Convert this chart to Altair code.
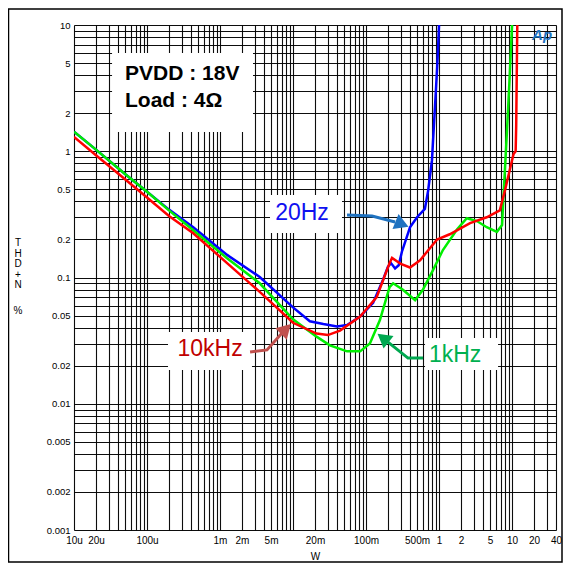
import altair as alt
import pandas as pd

# ---- measured curves (W, THD+N %) ----
w_20hz = [1e-5, 2e-5, 5e-5, 1e-4, 2e-4, 4.3e-4, 1.25e-3, 3.5e-3, 1e-2, 1.7e-2, 2.6e-2, 4e-2, 5.5e-2,
          8.3e-2, 0.125, 0.17, 0.2, 0.22, 0.25, 0.28, 0.31, 0.4, 0.5, 0.64, 0.71, 0.8, 0.87, 0.95, 1.0]
thd_20hz = [1.43, 1.03, 0.66, 0.478, 0.345, 0.25, 0.151, 0.101, 0.058, 0.045, 0.0428, 0.041, 0.042,
            0.049, 0.063, 0.095, 0.122, 0.13, 0.118, 0.125, 0.16, 0.25, 0.30, 0.35, 0.49, 0.85, 2.0, 5.0, 10.0]

w_1khz = [1e-5, 2e-5, 5e-5, 1e-4, 2e-4, 4.3e-4, 1.25e-3, 3.5e-3, 1e-2, 2.1e-2, 3.2e-2, 5.5e-2, 8.3e-2,
          0.113, 0.155, 0.21, 0.235, 0.32, 0.47, 0.6, 0.83, 1.13, 1.76, 2.4, 3.3, 4.5, 6.2, 7.3, 7.6,
          8.5, 9.3, 10.0]
thd_1khz = [1.43, 1.03, 0.66, 0.478, 0.34, 0.237, 0.142, 0.09, 0.0467, 0.034, 0.029, 0.026, 0.026,
            0.030, 0.046, 0.084, 0.09, 0.08, 0.066, 0.08, 0.115, 0.165, 0.24, 0.295, 0.28, 0.25, 0.23,
            0.26, 0.42, 1.4, 4.0, 10.0]

w_10khz = [1e-5, 2e-5, 5e-5, 1e-4, 2e-4, 4.3e-4, 1.25e-3, 3.5e-3, 1e-2, 2.1e-2, 3e-2, 4.4e-2, 8.3e-2,
           0.14, 0.21, 0.227, 0.3, 0.4, 0.55, 0.94, 1.4, 2.66, 4.5, 6.8, 8.0, 10.0, 10.5, 11.2, 11.4, 11.8]
thd_10khz = [1.30, 0.93, 0.60, 0.43, 0.307, 0.224, 0.13, 0.077, 0.0438, 0.036, 0.035, 0.038, 0.049,
             0.07, 0.13, 0.143, 0.128, 0.12, 0.137, 0.2, 0.22, 0.27, 0.30, 0.34, 0.49, 0.85, 0.95, 1.0,
             1.6, 10.0]

series_names = ["20Hz", "1kHz", "10kHz"]
series_colors = ["#0000ff", "#00ee00", "#ff0000"]

# ---- axis ticks / labels ----
x_label_vals = [1e-5, 2e-5, 1e-4, 1e-3, 2e-3, 5e-3, 2e-2, 0.1, 0.5, 1.0, 2.0, 5.0, 10.0, 20.0, 40.0]
x_label_text = ["10u", "20u", "100u", "1m", "2m", "5m", "20m", "100m", "500m", "1", "2", "5", "10", "20", "40"]
y_label_vals = [0.001, 0.002, 0.005, 0.01, 0.02, 0.05, 0.1, 0.2, 0.5, 1.0, 2.0, 5.0, 10.0]
y_label_text = ["0.001", "0.002", "0.005", "0.01", "0.02", "0.05", "0.1", "0.2", "0.5", "1", "2", "5", "10"]
y_title_parts = ["T|H|D|+|N", "%"]

x_grid = [float(f"{m}e{e}") for e in range(-5, 2) for m in range(1, 10) if float(f"{m}e{e}") <= 40] + [40.0]
y_grid = [float(f"{m}e{e}") for e in range(-3, 1) for m in range(1, 10)] + [10.0]

# ---- annotations ----
box_w1 = [3.32e-5, 4.84e-3, 1.94e-4, 0.643]
box_w2 = [2.83e-3, 0.0469, 2.74e-3, 6.43]
box_t1 = [6.0, 0.450, 0.037, 0.0332]
box_t2 = [1.42, 0.225, 0.0185, 0.0185]

label_text = ["PVDD : 18V", "Load : 4Ω"]
label_w = [5.0e-5, 5.0e-5]
label_t = [4.09, 2.50]

ann_text = ["20Hz", "10kHz", "1kHz"]
ann_w = [0.01328, 7.3e-4, 1.66]
ann_t = [0.324, 0.0272, 0.0243]
ann_colors = ["#1010f0", "#c00000", "#00b050"]
arrow_colors = ["#1f72c0", "#c0504d", "#00a850"]

arrow_ids = ["a20", "a20", "a20", "a10k", "a10k", "a10k", "a1k", "a1k", "a1k"]
arrow_w = [0.0549, 0.121, 0.250, 2.58e-3, 4.40e-3, 7.07e-3, 0.604, 0.376, 0.200]
arrow_t = [0.313, 0.307, 0.275, 0.0257, 0.0267, 0.0363, 0.0230, 0.0230, 0.0308]
head_w = [0.311, 8.0e-3, 0.171]
head_t = [0.265, 0.0391, 0.0332]
head_angle = [112, 45, 308]

FONT = "Liberation Sans"

xscale = alt.Scale(type="log", domain=[1e-5, 40], nice=False)
yscale = alt.Scale(type="log", domain=[0.001, 10], nice=False)


def chain(vals, texts):
    expr = "''"
    for v, t in reversed(list(zip(vals, texts))):
        expr = f"abs(datum.value - {repr(v)}) < {repr(v * 1e-6)} ? '{t}' : ({expr})"
    return expr


x_axis = alt.Axis(values=x_grid, labelExpr=chain(x_label_vals, x_label_text), grid=True,
                  gridColor="#000000", gridWidth=1.1, gridOpacity=0.95, ticks=False, domain=False,
                  labelOverlap=False, labelFlush=False, labelFont=FONT, labelFontSize=10,
                  labelColor="#000000", labelPadding=5, title="W", titleFont=FONT,
                  titleFontSize=10, titleFontWeight="normal", titleColor="#000000",
                  titleY=26, titleBaseline="middle")
y_axis = alt.Axis(values=y_grid, labelExpr=chain(y_label_vals, y_label_text), grid=True,
                  gridColor="#000000", gridWidth=1.1, gridOpacity=0.95, ticks=False, domain=False,
                  labelOverlap=False, labelFlush=False, labelFont=FONT, labelFontSize=9.5,
                  labelColor="#000000", labelPadding=4, title=None)

rows = []
for name, ws, ts in zip(series_names, [w_20hz, w_1khz, w_10khz], [thd_20hz, thd_1khz, thd_10khz]):
    for i, (w, t) in enumerate(zip(ws, ts)):
        rows.append({"series": name, "w": w, "thd": t, "i": i})
curves = pd.DataFrame(rows)

base_axes = alt.Chart(curves).mark_line(opacity=0).encode(
    x=alt.X("w:Q", scale=xscale, axis=x_axis),
    y=alt.Y("thd:Q", scale=yscale, axis=y_axis),
)

boxes = alt.Chart(pd.DataFrame({"w": box_w1, "w2": box_w2, "thd": box_t1, "thd2": box_t2})).mark_rect(
    fill="white").encode(
    x=alt.X("w:Q", scale=xscale), x2="w2:Q",
    y=alt.Y("thd:Q", scale=yscale), y2="thd2:Q")

lines = []
for name, col in zip(series_names, series_colors):
    lines.append(alt.Chart(curves).transform_filter(alt.datum.series == name).mark_line(
        color=col, strokeWidth=2.5, clip=True).encode(
        x=alt.X("w:Q", scale=xscale), y=alt.Y("thd:Q", scale=yscale), order="i:Q"))

arrows_df = pd.DataFrame({"id": arrow_ids, "w": arrow_w, "thd": arrow_t,
                          "col": [arrow_colors[0]] * 3 + [arrow_colors[1]] * 3 + [arrow_colors[2]] * 3,
                          "o": list(range(len(arrow_ids)))})
shafts = alt.Chart(arrows_df).mark_line(strokeWidth=3).encode(
    x=alt.X("w:Q", scale=xscale), y=alt.Y("thd:Q", scale=yscale),
    detail="id:N", color=alt.Color("col:N", scale=None), order="o:Q")

heads = alt.Chart(pd.DataFrame({"w": head_w, "thd": head_t, "ang": head_angle, "col": arrow_colors})).mark_point(
    shape="triangle-up", filled=True, size=260, opacity=1).encode(
    x=alt.X("w:Q", scale=xscale), y=alt.Y("thd:Q", scale=yscale),
    angle=alt.Angle("ang:Q", scale=None), color=alt.Color("col:N", scale=None))

pv_text = alt.Chart(pd.DataFrame({"w": label_w, "thd": label_t, "txt": label_text})).mark_text(
    font=FONT, fontSize=21, fontWeight="bold", align="left", baseline="middle", color="#000000").encode(
    x=alt.X("w:Q", scale=xscale), y=alt.Y("thd:Q", scale=yscale), text="txt:N")

ann = alt.Chart(pd.DataFrame({"w": ann_w, "thd": ann_t, "txt": ann_text, "col": ann_colors})).mark_text(
    font=FONT, fontSize=23, align="center", baseline="middle").encode(
    x=alt.X("w:Q", scale=xscale), y=alt.Y("thd:Q", scale=yscale), text="txt:N",
    color=alt.Color("col:N", scale=None))

logo = alt.Chart(pd.DataFrame({"w": [25.8], "thd": [8.3], "txt": ["Ap"]})).mark_text(
    font=FONT, fontSize=15, fontStyle="italic", fontWeight="bold", color="#1f72c0",
    align="center", baseline="middle").encode(
    x=alt.X("w:Q", scale=xscale), y=alt.Y("thd:Q", scale=yscale), text="txt:N")

ytitle1 = alt.Chart(pd.DataFrame({"t": [y_title_parts[0]]})).mark_text(
    font=FONT, fontSize=10, lineBreak="|", lineHeight=10.5, align="center", baseline="top",
    color="#000000").encode(x=alt.value(-56), y=alt.value(213), text="t:N")
ytitle2 = alt.Chart(pd.DataFrame({"t": [y_title_parts[1]]})).mark_text(
    font=FONT, fontSize=10, align="center", baseline="top",
    color="#000000").encode(x=alt.value(-56), y=alt.value(281), text="t:N")

frame = alt.Chart(pd.DataFrame({"a": [0]})).mark_rect(
    fill="transparent", stroke="#000000", strokeWidth=1.5).encode(
    x=alt.value(-65.5), x2=alt.value(488), y=alt.value(-16), y2=alt.value(537))

chart = alt.layer(base_axes, boxes, *lines, shafts, heads, pv_text, ann, logo,
                  ytitle1, ytitle2, frame).properties(
    width=482, height=505,
    autosize=alt.AutoSizeParams(type="none"),
    padding={"left": 66, "top": 17, "right": 7, "bottom": 33},
).configure_view(stroke="#000000", strokeWidth=1.5).configure(background="white")

chart.save("out.html", embed_options={"renderer": "svg", "actions": False})
